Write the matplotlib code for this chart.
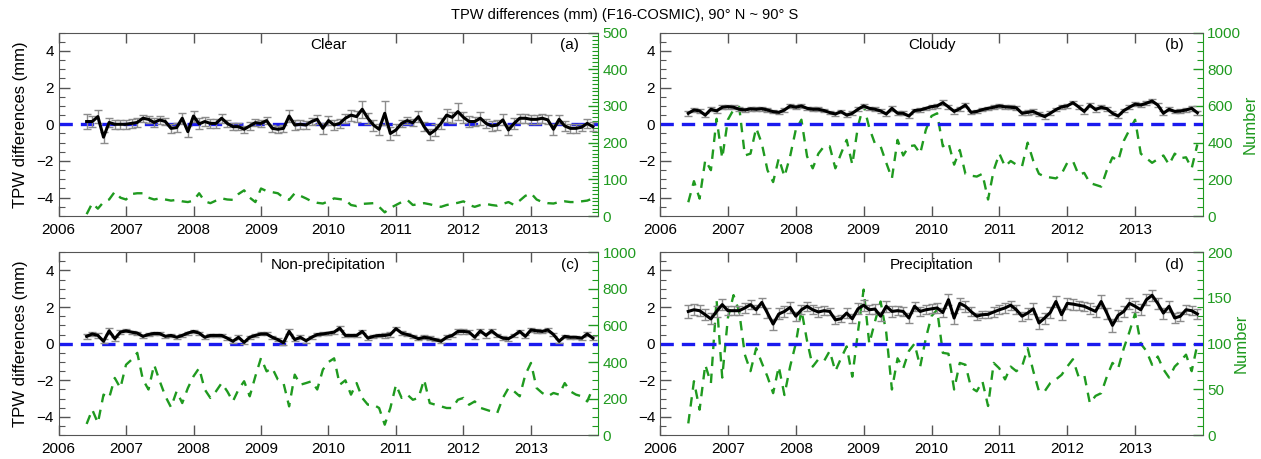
import numpy as np
import pandas as pd
import matplotlib
matplotlib.use("Agg")
import matplotlib.pyplot as plt
from matplotlib.ticker import MultipleLocator

plt.rcParams.update({
    'font.family': ['Liberation Sans', 'DejaVu Sans'],
    'font.size': 11,
})

# monthly samples, Jun 2006 .. Dec 2013
dates = pd.date_range('2006-06-01', '2013-12-01', freq='MS')
years = list(range(2006, 2014))

# ---------------- (a) Clear ----------------
clear_tpw = [0.15, 0.15, 0.42, -0.7, 0.1, 0.0, 0.0,
             0.0, 0.05, 0.1, 0.33, 0.27, 0.1, 0.24, 0.15, -0.22, -0.18, 0.33, -0.4,
             0.45, 0.02, 0.15, 0.05, 0.05, 0.33, 0.05, -0.13, -0.13, -0.27, -0.09, 0.09,
             0.05, 0.2, -0.22, -0.27, -0.22, 0.45, -0.04, 0.0, -0.04, 0.15, 0.27, -0.22,
             0.2, -0.04, 0.05, 0.33, 0.5, 0.42, 0.82, 0.33, -0.04, -0.27, 0.6, -0.5,
             -0.31, 0.05, 0.2, 0.09, 0.42, -0.13, -0.53, -0.31, 0.05, 0.5, 0.38, 0.69,
             0.38, 0.15, 0.15, 0.33, 0.05, -0.09, -0.04, 0.24, -0.31, 0.05, 0.33, 0.33,
             0.27, 0.27, 0.33, 0.24, -0.27, 0.27, -0.09, -0.22, -0.22, -0.16, 0.05, -0.13]
clear_err = [0.4, 0.3, 0.35, 0.3, 0.25, 0.25, 0.25,
             0.25, 0.25, 0.25, 0.2, 0.2, 0.25, 0.2, 0.2, 0.25, 0.25, 0.3, 0.3,
             0.3, 0.3, 0.25, 0.25, 0.25, 0.25, 0.2, 0.2, 0.2, 0.2, 0.2, 0.2,
             0.2, 0.2, 0.2, 0.2, 0.2, 0.35, 0.25, 0.25, 0.2, 0.2, 0.25, 0.3,
             0.25, 0.25, 0.25, 0.25, 0.3, 0.3, 0.45, 0.3, 0.3, 0.3, 0.65, 0.35,
             0.3, 0.2, 0.2, 0.2, 0.3, 0.25, 0.3, 0.35, 0.3, 0.35, 0.3, 0.45,
             0.3, 0.3, 0.25, 0.35, 0.25, 0.25, 0.25, 0.3, 0.25, 0.3, 0.25, 0.25,
             0.25, 0.25, 0.25, 0.25, 0.3, 0.25, 0.25, 0.25, 0.25, 0.2, 0.25, 0.25]
clear_num = [5, 35, 20, 38, 45, 66, 50,
             45, 60, 62, 62, 50, 45, 48, 45, 42, 44, 40, 38,
             42, 62, 40, 35, 42, 48, 45, 44, 60, 70, 50, 38,
             75, 68, 65, 62, 50, 44, 62, 55, 48, 40, 36, 34,
             40, 48, 46, 44, 30, 27, 33, 34, 35, 25, 10, 22,
             30, 38, 44, 30, 32, 35, 32, 28, 25, 30, 33, 36,
             40, 30, 25, 30, 33, 30, 28, 33, 38, 30, 42, 55,
             62, 45, 38, 35, 34, 38, 40, 38, 38, 40, 42, 48]

# ---------------- (b) Cloudy ----------------
cloudy_tpw = [0.6, 0.78, 0.73, 0.5, 0.82, 0.73, 0.93,
              0.96, 0.93, 0.82, 0.78, 0.84, 0.82, 0.85, 0.78, 0.69, 0.65, 0.78, 1.0,
              0.93, 1.0, 0.87, 0.82, 0.82, 0.75, 0.64, 0.56, 0.69, 0.5, 0.6, 0.82,
              1.0, 0.87, 0.82, 0.73, 0.56, 0.87, 0.6, 0.6, 0.45, 0.75, 0.78, 0.87,
              0.96, 1.0, 1.18, 0.95, 0.7, 0.85, 1.05, 0.65, 0.7, 0.8, 0.87, 0.93,
              1.0, 0.95, 0.93, 0.9, 0.6, 0.65, 0.7, 0.55, 0.42, 0.6, 0.8, 0.95,
              1.0, 1.18, 0.95, 0.7, 1.05, 0.8, 0.93, 0.85, 0.6, 0.45, 0.75, 0.93,
              1.1, 1.05, 1.15, 1.27, 1.05, 0.6, 0.82, 0.7, 0.72, 0.78, 0.87, 0.63]
cloudy_err = [0.15, 0.12, 0.12, 0.12, 0.1, 0.1, 0.1,
              0.1, 0.1, 0.1, 0.1, 0.1, 0.1, 0.1, 0.1, 0.1, 0.1, 0.1, 0.12,
              0.1, 0.1, 0.1, 0.1, 0.1, 0.1, 0.1, 0.1, 0.1, 0.1, 0.1, 0.1,
              0.1, 0.1, 0.1, 0.1, 0.12, 0.12, 0.1, 0.1, 0.1, 0.1, 0.1, 0.1,
              0.1, 0.1, 0.12, 0.12, 0.12, 0.12, 0.12, 0.1, 0.1, 0.1, 0.1, 0.1,
              0.1, 0.1, 0.1, 0.1, 0.1, 0.12, 0.12, 0.12, 0.12, 0.1, 0.1, 0.1,
              0.1, 0.1, 0.1, 0.12, 0.12, 0.12, 0.12, 0.12, 0.1, 0.1, 0.1, 0.1,
              0.1, 0.1, 0.1, 0.12, 0.12, 0.1, 0.1, 0.1, 0.1, 0.1, 0.12, 0.12]
cloudy_num = [75, 190, 95, 305, 250, 530, 315,
              525, 580, 595, 330, 340, 480, 395, 250, 185, 315, 215, 325,
              470, 525, 325, 260, 340, 380, 380, 260, 340, 415, 280, 490,
              605, 480, 395, 380, 290, 205, 415, 330, 380, 385, 340, 470,
              545, 560, 380, 400, 280, 360, 230, 220, 215, 230, 90, 250,
              340, 270, 300, 280, 270, 400, 300, 230, 215, 210, 205, 230,
              290, 300, 225, 235, 180, 170, 160, 250, 320, 300, 410, 470,
              525, 340, 315, 290, 310, 330, 280, 340, 315, 320, 260, 390]

# ---------------- (c) Non-precipitation ----------------
nonprec_tpw = [0.4, 0.53, 0.45, 0.13, 0.7, 0.27, 0.63,
               0.7, 0.63, 0.58, 0.4, 0.5, 0.56, 0.55, 0.4, 0.45, 0.35, 0.45, 0.58,
               0.67, 0.58, 0.35, 0.45, 0.45, 0.45, 0.3, 0.13, 0.35, 0.07, 0.35, 0.45,
               0.53, 0.53, 0.35, 0.22, 0.05, 0.67, 0.22, 0.35, 0.16, 0.35, 0.5, 0.53,
               0.58, 0.63, 0.85, 0.45, 0.45, 0.45, 0.67, 0.3, 0.4, 0.45, 0.45, 0.5,
               0.82, 0.58, 0.5, 0.4, 0.27, 0.35, 0.3, 0.22, 0.13, 0.35, 0.45, 0.67,
               0.67, 0.63, 0.35, 0.7, 0.45, 0.7, 0.45, 0.3, 0.27, 0.45, 0.67, 0.4,
               0.75, 0.7, 0.67, 0.75, 0.5, 0.13, 0.4, 0.35, 0.35, 0.3, 0.53, 0.3]
nonprec_err = [0.15, 0.12, 0.12, 0.1, 0.15, 0.1, 0.1,
               0.08, 0.08, 0.08, 0.08, 0.08, 0.08, 0.08, 0.1, 0.08, 0.08, 0.08, 0.08,
               0.08, 0.08, 0.08, 0.08, 0.08, 0.08, 0.08, 0.08, 0.1, 0.08, 0.08, 0.08,
               0.08, 0.08, 0.08, 0.08, 0.1, 0.15, 0.1, 0.1, 0.1, 0.08, 0.08, 0.08,
               0.08, 0.08, 0.1, 0.1, 0.1, 0.1, 0.1, 0.1, 0.1, 0.1, 0.15, 0.15,
               0.1, 0.1, 0.1, 0.08, 0.08, 0.1, 0.1, 0.1, 0.1, 0.1, 0.08, 0.12,
               0.12, 0.1, 0.1, 0.12, 0.12, 0.12, 0.1, 0.1, 0.1, 0.1, 0.1, 0.1,
               0.1, 0.1, 0.08, 0.1, 0.1, 0.1, 0.1, 0.08, 0.08, 0.08, 0.12, 0.1]
nonprec_num = [62, 140, 67, 222, 204, 313, 258,
               385, 413, 450, 304, 250, 385, 295, 213, 153, 240, 176, 258,
               322, 367, 250, 204, 240, 285, 240, 185, 250, 295, 213, 322,
               422, 349, 367, 304, 285, 158, 331, 276, 285, 295, 250, 358,
               400, 420, 276, 300, 222, 285, 204, 167, 167, 149, 58, 149,
               276, 204, 222, 194, 204, 304, 176, 167, 158, 149, 149, 194,
               204, 167, 185, 150, 140, 130, 122, 204, 258, 240, 213, 331,
               395, 258, 231, 213, 231, 222, 285, 240, 222, 213, 185, 258]

# ---------------- (d) Precipitation ----------------
prec_tpw = [1.76, 1.85, 1.8, 1.58, 1.35, 1.76, 2.13,
            1.8, 1.8, 1.8, 1.95, 2.13, 1.85, 2.25, 1.67, 1.07, 1.62, 1.76, 1.98,
            1.5, 1.85, 2.04, 1.85, 1.73, 1.8, 1.76, 1.3, 1.36, 1.67, 1.36, 1.9,
            2.1, 1.85, 1.89, 1.5, 2.04, 1.76, 1.8, 1.76, 1.4, 2.04, 1.76, 1.85,
            1.9, 1.95, 1.7, 2.4, 1.4, 2.2, 2.04, 1.75, 1.5, 1.58, 1.6, 1.73,
            1.85, 1.95, 2.1, 1.85, 1.5, 1.67, 1.9, 1.13, 1.4, 1.7, 2.3, 1.58,
            2.2, 2.16, 2.1, 2.04, 1.9, 1.76, 2.3, 1.67, 1.0, 1.55, 1.76, 2.2,
            2.04, 1.85, 2.4, 2.64, 2.2, 1.67, 2.04, 1.4, 1.5, 1.85, 1.8, 1.62]
prec_err = [0.35, 0.3, 0.3, 0.3, 0.3, 0.3, 0.3,
            0.25, 0.25, 0.25, 0.25, 0.25, 0.25, 0.25, 0.25, 0.3, 0.3, 0.3, 0.3,
            0.25, 0.25, 0.25, 0.25, 0.25, 0.25, 0.2, 0.2, 0.2, 0.25, 0.25, 0.3,
            0.3, 0.25, 0.25, 0.25, 0.3, 0.3, 0.25, 0.25, 0.25, 0.25, 0.25, 0.25,
            0.25, 0.25, 0.25, 0.3, 0.3, 0.3, 0.3, 0.25, 0.2, 0.2, 0.2, 0.25,
            0.25, 0.25, 0.25, 0.25, 0.25, 0.3, 0.3, 0.35, 0.3, 0.3, 0.3, 0.3,
            0.3, 0.3, 0.25, 0.25, 0.3, 0.3, 0.35, 0.3, 0.35, 0.3, 0.3, 0.3,
            0.3, 0.3, 0.3, 0.3, 0.3, 0.3, 0.3, 0.25, 0.25, 0.25, 0.25, 0.25]
prec_num = [13, 59, 28, 77, 57, 148, 63,
            128, 153, 135, 88, 70, 95, 79, 64, 46, 75, 44, 75,
            100, 137, 103, 75, 83, 81, 92, 70, 84, 97, 64, 113,
            159, 100, 124, 146, 112, 50, 84, 73, 92, 100, 75, 106,
            130, 137, 90, 89, 50, 79, 77, 52, 48, 59, 32, 79,
            73, 61, 75, 70, 75, 95, 70, 48, 48, 57, 61, 66,
            75, 83, 64, 66, 35, 43, 46, 64, 79, 73, 95, 113,
            133, 100, 92, 77, 86, 72, 63, 75, 81, 88, 70, 99]

GREEN = '#1f9a1f'
BLUE = '#1a1aee'

t = dates.year + (dates.month - 1) / 12.0

fig = plt.figure(figsize=(12.61, 4.59), dpi=100)


def draw_panel(rect, tpw, err, num, num_max, num_major, num_minor, name,
               letter, left_label, right_label):
    ax = fig.add_axes(rect)
    ax2 = ax.twinx()
    ax.set_zorder(ax2.get_zorder() + 1)
    ax.patch.set_visible(False)

    # counts (right axis)
    ax2.plot(t, num, color=GREEN, lw=1.7, dashes=(4, 3.2))
    ax2.set_ylim(0, num_max)
    ax2.yaxis.set_major_locator(MultipleLocator(num_major))
    ax2.yaxis.set_minor_locator(MultipleLocator(num_minor))
    ax2.tick_params(axis='y', which='both', direction='in', colors=GREEN,
                    labelsize=11, pad=3)
    ax2.tick_params(axis='y', which='major', length=7, width=1)
    ax2.tick_params(axis='y', which='minor', length=4, width=0.8)
    for s in ['left', 'top', 'bottom']:
        ax2.spines[s].set_visible(False)
    ax2.spines['right'].set_color(GREEN)
    if right_label:
        ax2.set_ylabel('Number', color=GREEN, fontsize=12, labelpad=1)

    # TPW differences (left axis)
    ax.axhline(0, color=BLUE, lw=2.4, dashes=(4, 2.4), zorder=2)
    ax.errorbar(t, tpw, yerr=err, color='black', lw=2.2, ecolor='#8c8c8c',
                elinewidth=1.0, capsize=3, capthick=1.0, zorder=3)
    ax.set_xlim(2006, 2014)
    ax.set_ylim(-5, 5)
    ax.set_xticks(years)
    ax.set_yticks([-4, -2, 0, 2, 4])
    ax.yaxis.set_minor_locator(MultipleLocator(0.5))
    ax.tick_params(axis='x', which='major', direction='in', top=True,
                   length=7, width=1, labelsize=11, pad=5, color='#555555')
    ax.tick_params(axis='y', which='major', direction='in', length=8,
                   width=1, labelsize=11, color='#555555')
    ax.tick_params(axis='y', which='minor', direction='in', length=4,
                   width=0.8, color='#555555')
    for s in ['left', 'top', 'bottom']:
        ax.spines[s].set_color('#555555')
    ax.spines['right'].set_visible(False)
    if left_label:
        ax.set_ylabel('TPW differences (mm)', fontsize=12, labelpad=6)

    ax.text(0.5, 0.93, name, transform=ax.transAxes, ha='center',
            va='center', fontsize=11)
    ax.text(0.947, 0.93, letter, transform=ax.transAxes, ha='center',
            va='center', fontsize=11)


draw_panel([0.0464, 0.5294, 0.4282, 0.3996], clear_tpw, clear_err, clear_num,
           500, 100, 10, 'Clear', '(a)', True, False)
draw_panel([0.5234, 0.5294, 0.4306, 0.3996], cloudy_tpw, cloudy_err, cloudy_num,
           1000, 200, 50, 'Cloudy', '(b)', False, True)
draw_panel([0.0464, 0.0516, 0.4282, 0.3993], nonprec_tpw, nonprec_err, nonprec_num,
           1000, 200, 50, 'Non-precipitation', '(c)', True, False)
draw_panel([0.5234, 0.0516, 0.4306, 0.3993], prec_tpw, prec_err, prec_num,
           200, 50, 10, 'Precipitation', '(d)', False, True)

fig.text(0.4955, 0.968, 'TPW differences (mm) (F16-COSMIC), 90\u00b0 N ~ 90\u00b0 S',
         ha='center', va='center', fontsize=10.5)

fig.savefig('out.png', dpi=100)
